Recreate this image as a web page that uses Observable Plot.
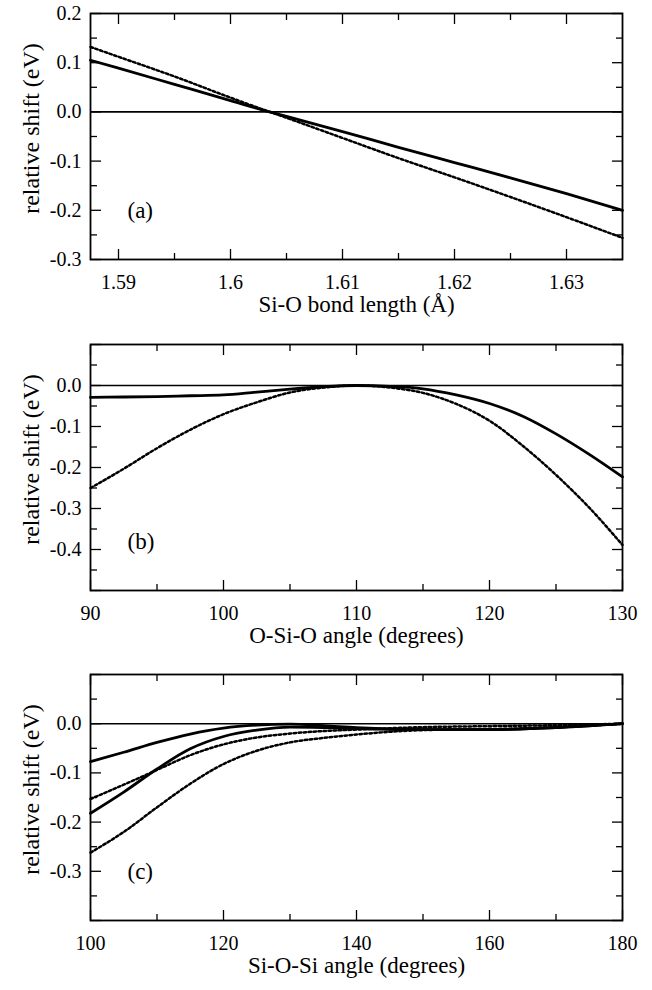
<!DOCTYPE html>
<html><head><meta charset="utf-8">
<script src="https://cdn.jsdelivr.net/npm/d3@7"></script>
<script src="https://cdn.jsdelivr.net/npm/@observablehq/plot@0.6"></script>
<style>
body{margin:0;background:#fff;}
#chart{width:652px;}
#chart svg{display:block;}
</style></head><body><div id="chart"></div>
<script>
const FONT = '"Liberation Serif","Times New Roman",Times,serif';
const yLabel = "relative shift (eV)";

// ---- Panel (a) ----
const bondLength = [1.5875,1.59,1.595,1.6,1.6035,1.605,1.61,1.615,1.62,1.625,1.63,1.635];
const shiftA_solid = [0.105,0.089,0.056,0.023,0.0,-0.009,-0.040,-0.072,-0.103,-0.134,-0.166,-0.200];
const shiftA_dotted = [0.132,0.112,0.072,0.029,0.0,-0.012,-0.053,-0.094,-0.133,-0.173,-0.214,-0.256];
const xTicksA = [1.59,1.60,1.61,1.62,1.63];
const xMinorA = [1.595,1.605,1.615,1.625];
const yTicksA = [-0.3,-0.2,-0.1,0.0,0.1,0.2];
const yMinorA = [-0.25,-0.15,-0.05,0.05,0.15];
const xLabelA = "Si-O bond length (Å)";
const tagA = "(a)";

// ---- Panel (b) ----
const angleOSiO = [90,92.5,95,97.5,100,102.5,105,107.5,110,112.5,115,117.5,120,122.5,125,127.5,130];
const shiftB_solid = [-0.029,-0.028,-0.027,-0.025,-0.023,-0.016,-0.009,-0.003,0.0,-0.002,-0.008,-0.023,-0.044,-0.075,-0.118,-0.168,-0.223];
const shiftB_dotted = [-0.250,-0.203,-0.153,-0.108,-0.070,-0.041,-0.017,-0.005,0.0,-0.005,-0.018,-0.045,-0.086,-0.147,-0.218,-0.298,-0.389];
const xTicksB = [90,100,110,120,130];
const xMinorB = [95,105,115,125];
const yTicksB = [-0.5,-0.4,-0.3,-0.2,-0.1,0.0,0.1];
const yLabelsB = [-0.4,-0.3,-0.2,-0.1,0.0];
const yMinorB = [-0.45,-0.35,-0.25,-0.15,-0.05,0.05];
const xLabelB = "O-Si-O angle (degrees)";
const tagB = "(b)";

// ---- Panel (c) ----
const angleSiOSi = [100,105,110,115,120,125,130,135,140,150,160,170,180];
const shiftC_solid1 = [-0.077,-0.058,-0.038,-0.021,-0.009,-0.003,-0.001,-0.004,-0.008,-0.012,-0.012,-0.008,0.0];
const shiftC_solid2 = [-0.182,-0.139,-0.092,-0.051,-0.026,-0.013,-0.007,-0.008,-0.010,-0.012,-0.012,-0.008,0.0];
const shiftC_dotted1 = [-0.153,-0.124,-0.094,-0.064,-0.042,-0.028,-0.020,-0.015,-0.012,-0.007,-0.005,-0.003,0.0];
const shiftC_dotted2 = [-0.262,-0.220,-0.170,-0.122,-0.082,-0.055,-0.038,-0.029,-0.022,-0.013,-0.011,-0.007,0.0];
const xTicksC = [100,120,140,160,180];
const xMinorC = [110,130,150,170];
const yTicksC = [-0.4,-0.3,-0.2,-0.1,0.0,0.1];
const yLabelsC = [-0.3,-0.2,-0.1,0.0];
const yMinorC = [-0.35,-0.25,-0.15,-0.05,0.05];
const xLabelC = "Si-O-Si angle (degrees)";
const tagC = "(c)";

function panel(cfg) {
  const marks = [];
  const blank = () => "";
  for (const anchor of ["bottom","top"]) {
    marks.push(Plot.axisX({anchor, ticks: cfg.xTicks, tickSize: -10, tickFormat: blank, label: null, strokeWidth: 1.3}));
    marks.push(Plot.axisX({anchor, ticks: cfg.xMinor, tickSize: -6, tickFormat: blank, label: null, strokeWidth: 1.3}));
  }
  for (const anchor of ["left","right"]) {
    marks.push(Plot.axisY({anchor, ticks: cfg.yTicks, tickSize: -11, tickFormat: blank, label: null, strokeWidth: 1.3}));
    marks.push(Plot.axisY({anchor, ticks: cfg.yMinor, tickSize: -7, tickFormat: blank, label: null, strokeWidth: 1.3}));
  }
  marks.push(Plot.axisX({anchor: "bottom", ticks: cfg.xTicks, tickSize: 0, tickPadding: 15, tickFormat: cfg.xFmt, label: null, fontSize: 20, fontFamily: FONT}));
  marks.push(Plot.axisY({anchor: "left", ticks: cfg.yLabels, tickSize: 0, tickPadding: 9, tickFormat: d => d.toFixed(1), label: null, fontSize: 20, fontFamily: FONT}));
  marks.push(Plot.ruleY([0], {stroke: "#000", strokeWidth: 1.6}));
  for (const s of cfg.series) {
    marks.push(Plot.line(s.y, {x: cfg.x, y: d => d, curve: "monotone-x", stroke: "#000",
      strokeWidth: s.dotted ? 2.5 : 2.8, strokeDasharray: s.dotted ? "2.5,2.5" : null}));
  }
  marks.push(Plot.frame({stroke: "#000", strokeWidth: 1.8}));
  marks.push(Plot.text([cfg.tag], {text: d => d, frameAnchor: "bottom-left", dx: 37, dy: -42, fontSize: 23, textAnchor: "start", fontFamily: FONT}));
  marks.push(Plot.text([cfg.xLabel], {text: d => d, frameAnchor: "bottom", dy: 52, fontSize: 23, textAnchor: "middle", fontFamily: FONT}));
  marks.push(Plot.text([yLabel], {text: d => d, frameAnchor: "left", dx: -59, dy: -8, rotate: -90, fontSize: 24, textAnchor: "middle", lineAnchor: "middle", fontFamily: FONT}));
  return Plot.plot({
    width: 652, height: 330,
    marginLeft: 90, marginRight: 30, marginTop: cfg.marginTop, marginBottom: 330 - cfg.marginTop - 246,
    style: {fontFamily: FONT, fontSize: "20px", color: "#000", background: "#fff", overflow: "visible"},
    x: {domain: cfg.xDomain, axis: null},
    y: {domain: cfg.yDomain, axis: null},
    marks
  });
}

const chart = document.getElementById("chart");
chart.append(panel({
  x: bondLength, xDomain: [1.5875, 1.635], yDomain: [-0.3, 0.2], marginTop: 13,
  xTicks: xTicksA, xMinor: xMinorA, yTicks: yTicksA, yLabels: yTicksA, yMinor: yMinorA,
  xFmt: d => String(+d.toFixed(3)), xLabel: xLabelA, tag: tagA,
  series: [{y: shiftA_solid}, {y: shiftA_dotted, dotted: true}]
}));
chart.append(panel({
  x: angleOSiO, xDomain: [90, 130], yDomain: [-0.5, 0.1], marginTop: 14,
  xTicks: xTicksB, xMinor: xMinorB, yTicks: yTicksB, yLabels: yLabelsB, yMinor: yMinorB,
  xFmt: d => String(d), xLabel: xLabelB, tag: tagB,
  series: [{y: shiftB_solid}, {y: shiftB_dotted, dotted: true}]
}));
chart.append(panel({
  x: angleSiOSi, xDomain: [100, 180], yDomain: [-0.4, 0.1], marginTop: 14,
  xTicks: xTicksC, xMinor: xMinorC, yTicks: yTicksC, yLabels: yLabelsC, yMinor: yMinorC,
  xFmt: d => String(d), xLabel: xLabelC, tag: tagC,
  series: [{y: shiftC_solid1}, {y: shiftC_solid2}, {y: shiftC_dotted1, dotted: true}, {y: shiftC_dotted2, dotted: true}]
}));
</script></body></html>
